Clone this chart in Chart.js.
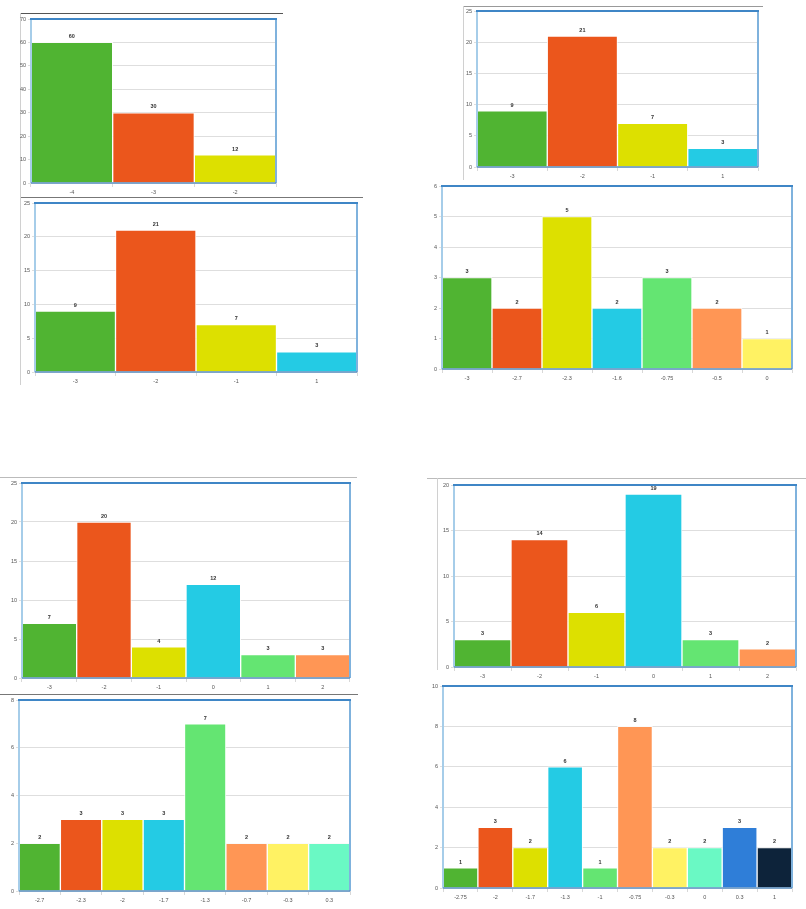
<!DOCTYPE html>
<html>
<head>
<meta charset="utf-8">
<script src="https://cdn.jsdelivr.net/npm/chart.js@4/dist/chart.umd.min.js"></script>
<style>
  html, body { margin:0; padding:0; background:#fff; }
  body { width:806px; height:909px; position:relative; overflow:hidden; }
  .box { position:absolute; }
  .hl { position:absolute; height:1px; }
  .vl { position:absolute; width:1px; background:#d0d0d0; }
</style>
</head>
<body>
<script>
// ---- palette ----
const palette = ['#50B432','#EB561C','#DDE000','#24CBE4','#64E572','#FF9655','#FFF263','#6AF9C4','#2F7ED8','#0D233A'];

// ---- chart 1 (top-left, upper) ----
const c1Labels = ['-4','-3','-2'];
const c1Values = [60, 30, 12];
const c1Max = 70, c1Step = 10;

// ---- chart 2 (top-left, lower) ----
const c2Labels = ['-3','-2','-1','1'];
const c2Values = [9, 21, 7, 3];
const c2Max = 25, c2Step = 5;

// ---- chart 3 (top-right, upper) ----
const c3Labels = ['-3','-2','-1','1'];
const c3Values = [9, 21, 7, 3];
const c3Max = 25, c3Step = 5;

// ---- chart 4 (top-right, lower) ----
const c4Labels = ['-3','-2.7','-2.3','-1.6','-0.75','-0.5','0'];
const c4Values = [3, 2, 5, 2, 3, 2, 1];
const c4Max = 6, c4Step = 1;

// ---- chart 5 (bottom-left, upper) ----
const c5Labels = ['-3','-2','-1','0','1','2'];
const c5Values = [7, 20, 4, 12, 3, 3];
const c5Max = 25, c5Step = 5;

// ---- chart 6 (bottom-left, lower) ----
const c6Labels = ['-2.7','-2.3','-2','-1.7','-1.3','-0.7','-0.3','0.3'];
const c6Values = [2, 3, 3, 3, 7, 2, 2, 2];
const c6Max = 8, c6Step = 2;

// ---- chart 7 (bottom-right, upper) ----
const c7Labels = ['-3','-2','-1','0','1','2'];
const c7Values = [3, 14, 6, 19, 3, 2];
const c7Max = 20, c7Step = 5;

// ---- chart 8 (bottom-right, lower) ----
const c8Labels = ['-2.75','-2','-1.7','-1.3','-1','-0.75','-0.3','0','0.3','1'];
const c8Values = [1, 3, 2, 6, 1, 8, 2, 2, 3, 2];
const c8Max = 10, c8Step = 2;

// ---- layout (plot area rectangles: left, top, right, bottom) ----
const charts = [
  {labels:c1Labels, values:c1Values, max:c1Max, step:c1Step, area:[31,19,276,183]},
  {labels:c2Labels, values:c2Values, max:c2Max, step:c2Step, area:[35,203,357,372]},
  {labels:c3Labels, values:c3Values, max:c3Max, step:c3Step, area:[477,11,758,167]},
  {labels:c4Labels, values:c4Values, max:c4Max, step:c4Step, area:[442,186,792,369]},
  {labels:c5Labels, values:c5Values, max:c5Max, step:c5Step, area:[22,483,350,678]},
  {labels:c6Labels, values:c6Values, max:c6Max, step:c6Step, area:[19,700,350,891]},
  {labels:c7Labels, values:c7Values, max:c7Max, step:c7Step, area:[454,485,796,667]},
  {labels:c8Labels, values:c8Values, max:c8Max, step:c8Step, area:[443,686,792,888]}
];

// decorative frame lines [x, y, length, color]
const hLines = [[20,13,263,'#555'],[20,197,343,'#777'],[463,6,300,'#999'],[0,477,357,'#bbb'],[0,694,358,'#777'],[427,478,379,'#bbb']];
const vLines = [[20,13,184],[20,197,188],[463,6,174],[437,478,192]];

hLines.forEach(([x,y,w,c]) => {
  const d = document.createElement('div'); d.className='hl';
  d.style.left=x+'px'; d.style.top=y+'px'; d.style.width=w+'px'; d.style.background=c;
  document.body.appendChild(d);
});
vLines.forEach(([x,y,h]) => {
  const d = document.createElement('div'); d.className='vl';
  d.style.left=x+'px'; d.style.top=y+'px'; d.style.height=h+'px';
  document.body.appendChild(d);
});

const Y_W = 14, X_H = 14, PAD_T = 6, PAD_R = 3;

const frameAndLabels = {
  id: 'frameAndLabels',
  afterDatasetsDraw(chart) {
    const ctx = chart.ctx, a = chart.chartArea;
    // value labels
    const meta = chart.getDatasetMeta(0);
    ctx.save();
    ctx.font = 'bold 5.5px "Liberation Sans", Arial, sans-serif';
    ctx.fillStyle = '#333';
    ctx.textAlign = 'center';
    ctx.textBaseline = 'bottom';
    meta.data.forEach((el, i) => {
      ctx.fillText(String(chart.data.datasets[0].data[i]), el.x, el.y - 3);
    });
    // plot frame
    ctx.lineWidth = 2;
    ctx.strokeStyle = '#a6cde9';
    ctx.beginPath(); ctx.moveTo(a.left, a.top); ctx.lineTo(a.left, a.bottom); ctx.stroke();
    ctx.strokeStyle = '#7fb2dd';
    ctx.beginPath(); ctx.moveTo(a.right, a.top); ctx.lineTo(a.right, a.bottom); ctx.stroke();
    ctx.strokeStyle = '#3f86c6';
    ctx.beginPath(); ctx.moveTo(a.left-1, a.top); ctx.lineTo(a.right+1, a.top); ctx.stroke();
    ctx.lineWidth = 1.5;
    ctx.strokeStyle = '#5d92c4';
    ctx.beginPath(); ctx.moveTo(a.left, a.bottom); ctx.lineTo(a.right, a.bottom); ctx.stroke();
    ctx.restore();
  }
};

const tickFont = {family:'"Liberation Sans", Arial, sans-serif', size:5.5};

charts.forEach((c, idx) => {
  const [L, T, R, B] = c.area;
  const div = document.createElement('div');
  div.className = 'box';
  const left = L - Y_W, top = T - PAD_T;
  const w = (R - L) + Y_W + PAD_R, h = (B - T) + PAD_T + X_H;
  div.style.left = left + 'px'; div.style.top = top + 'px';
  div.style.width = w + 'px'; div.style.height = h + 'px';
  const cv = document.createElement('canvas');
  div.appendChild(cv);
  document.body.appendChild(div);

  new Chart(cv, {
    type: 'bar',
    data: {
      labels: c.labels,
      datasets: [{
        data: c.values,
        backgroundColor: c.values.map((_, i) => palette[i % palette.length]),
        borderColor: 'rgba(255,255,255,0.85)',
        borderWidth: 1,
        barPercentage: 1,
        categoryPercentage: 1
      }]
    },
    options: {
      responsive: true,
      maintainAspectRatio: false,
      animation: false,
      events: [],
      layout: { padding: { top: PAD_T, right: PAD_R, left: 0, bottom: 0 } },
      plugins: { legend: { display: false }, tooltip: { enabled: false } },
      scales: {
        x: {
          offset: true,
          grid: { display: true, drawOnChartArea: false, drawTicks: true, tickLength: 4, color: '#d8d8d8', offset: true },
          border: { display: false },
          ticks: { font: tickFont, color: '#555', padding: 2, maxRotation: 0, autoSkip: false },
          afterFit(s) { s.height = X_H; }
        },
        y: {
          min: 0, max: c.max,
          grid: { color: '#dedede', lineWidth: 1, drawTicks: true, tickLength: 3 },
          border: { display: false },
          ticks: { stepSize: c.step, font: tickFont, color: '#555', padding: 2 },
          afterFit(s) { s.width = Y_W; }
        }
      }
    },
    plugins: [frameAndLabels]
  });
});
</script>
</body>
</html>
